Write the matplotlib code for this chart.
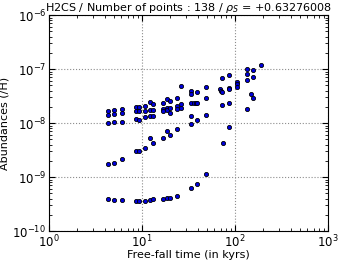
import matplotlib
matplotlib.use("Agg")
import matplotlib.pyplot as plt

# free-fall time (kyrs) and H2CS abundance (/H)
time_kyrs = [
    4.31, 4.31, 4.31, 4.31, 4.31,
    4.96, 4.96, 4.96, 4.96, 4.96,
    6.09, 6.09, 6.09, 6.09, 6.09,
    8.55, 8.55, 8.55, 8.55, 8.55,
    9.22, 9.22, 9.22, 9.22, 9.22,
    10.7, 10.7, 10.7, 10.7, 10.7,
    12.2, 12.2, 12.2, 12.2, 12.2,
    13.1, 13.1, 13.1, 13.1, 13.1,
    16.9, 16.9, 16.9, 16.9, 16.9,
    18.4, 18.4, 18.4, 18.4, 18.4,
    19.9, 19.9, 19.9, 19.9, 19.9,
    24.0, 24.0, 24.0, 24.0, 24.0,
    26.1, 26.1, 26.1,
    34.0, 34.0, 34.0, 34.0, 34.0, 34.0,
    36.0, 37.8,
    39.4, 39.4, 39.4, 39.4,
    48.4, 48.4, 48.4, 48.4,
    68.5, 71.1, 73.2, 73.2, 73.2, 74.3,
    85.5, 85.5, 85.5, 85.5, 85.5,
    105.0, 105.0, 105.0,
    136.0, 136.0, 136.0, 136.0,
    147.0,
    156.0, 156.0, 156.0,
    192.0,
]
abundance = [
    1.71e-8, 1.44e-8, 1.01e-8, 1.74e-9, 3.85e-10,
    1.76e-8, 1.49e-8, 1.04e-8, 1.86e-9, 3.80e-10,
    1.84e-8, 1.55e-8, 1.07e-8, 2.18e-9, 3.69e-10,
    2.00e-8, 1.67e-8, 1.17e-8, 3.07e-9, 3.64e-10,
    2.00e-8, 1.67e-8, 1.15e-8, 3.03e-9, 3.60e-10,
    2.09e-8, 1.71e-8, 1.29e-8, 3.44e-9, 3.64e-10,
    2.45e-8, 1.76e-8, 1.38e-8, 5.27e-9, 3.80e-10,
    2.28e-8, 1.76e-8, 1.38e-8, 4.37e-9, 3.92e-10,
    2.38e-8, 1.79e-8, 1.67e-8, 5.27e-9, 3.96e-10,
    2.74e-8, 1.92e-8, 1.76e-8, 6.99e-9, 4.14e-10,
    2.55e-8, 1.88e-8, 1.55e-8, 6.07e-9, 4.14e-10,
    2.94e-8, 2.09e-8, 1.79e-8, 7.74e-9, 4.51e-10,
    4.84e-8, 2.21e-8, 1.92e-8,
    3.92e-8, 3.39e-8, 2.38e-8, 1.38e-8, 9.42e-9, 6.25e-10,
    2.38e-8, 2.38e-8,
    3.80e-8, 2.38e-8, 1.12e-8, 7.42e-10,
    4.64e-8, 2.86e-8, 1.44e-8, 1.12e-9,
    4.19e-8, 3.88e-8, 6.70e-8, 2.12e-8, 3.69e-8, 4.37e-9,
    7.74e-8, 4.51e-8, 4.19e-8, 2.38e-8, 8.43e-9,
    5.82e-8, 5.19e-8, 4.64e-8,
    1.01e-7, 8.18e-8, 6.34e-8, 1.84e-8,
    3.53e-8,
    9.42e-8, 7.20e-8, 2.94e-8,
    1.19e-7,
]

fig = plt.figure(figsize=(3.43, 2.65), dpi=100)
ax = fig.add_axes([0.143, 0.128, 0.813, 0.815])

ax.plot(time_kyrs, abundance, "o", ms=3.0, mfc="#0000dd", mec="k", mew=0.6,
        linestyle="none")

ax.set_xscale("log")
ax.set_yscale("log")
ax.set_xlim(1, 1000)
ax.set_ylim(1e-10, 1e-6)

ax.grid(True, which="major", linestyle=":", color="0.55", linewidth=0.8)
ax.tick_params(which="both", direction="in", top=True, right=True,
               labelsize=8.5, pad=2)
ax.tick_params(which="major", length=4)
ax.tick_params(which="minor", length=2)

ax.set_xlabel("Free-fall time (in kyrs)", fontsize=8, labelpad=0)
ax.set_ylabel("Abundances (/H)", fontsize=8, labelpad=2)
ax.set_title(r"H2CS / Number of points : 138 / $\rho_S$ = +0.63276008",
             fontsize=8, pad=3)

fig.savefig("out.png", dpi=100)
